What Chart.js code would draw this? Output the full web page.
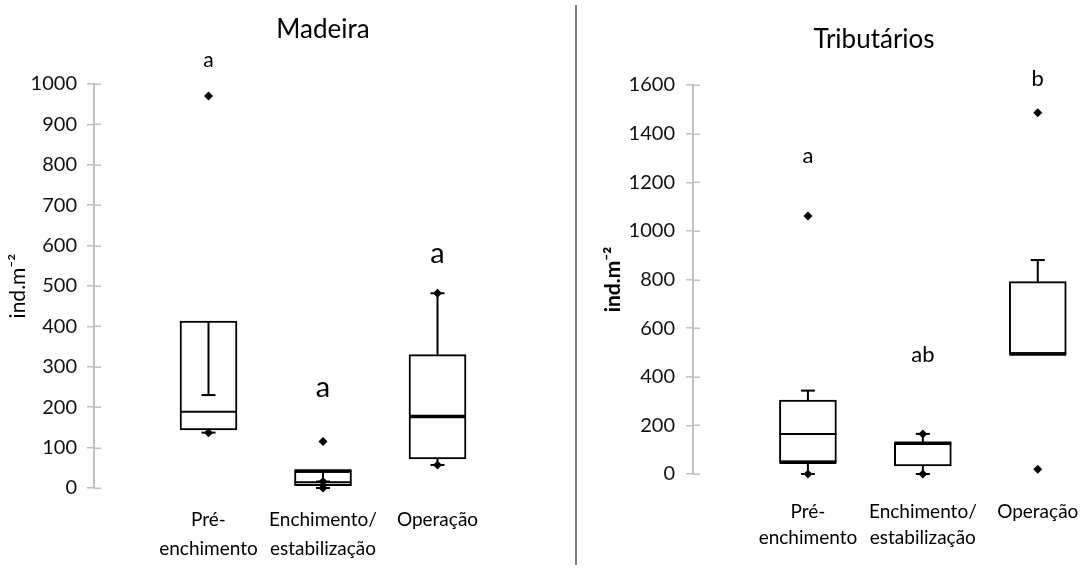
<!DOCTYPE html>
<html>
<head>
<meta charset="utf-8">
<script src="https://cdn.jsdelivr.net/npm/chart.js@4.4.1/dist/chart.umd.min.js"></script>
<style>
  html, body { margin: 0; padding: 0; background: #fff; }
  #wrap { position: relative; width: 1080px; height: 569px; overflow: hidden; }
  #left { position: absolute; left: 0; top: 0; }
  #right { position: absolute; left: 578px; top: 0; }
  #divider { position: absolute; left: 575px; top: 5px; width: 2px; height: 560px; background: #7f7f7f; }
</style>
</head>
<body>
<div id="wrap">
  <canvas id="left" width="576" height="569"></canvas>
  <div id="divider"></div>
  <canvas id="right" width="502" height="569"></canvas>
</div>
<script>
const periods = [["Pré-", "enchimento"], ["Enchimento/", "estabilização"], ["Operação"]]

// Madeira
const madeiraMax = 1000
const madeiraStep = 100
const madeiraQ1 = [144, 6, 72]
const madeiraQ3 = [413, 42, 330]
const madeiraMedian = [null, 42, 177]
const madeiraSplit = [189, 14, null]
const madeiraWhiskerHigh = [230, 16, 482]
const madeiraWhiskerLow = [137, 0, 57]
const madeiraPoints = [[970, 137], [115, 16, 0], [482, 57]]
const madeiraLetters = ["a", "a", "a"]
const madeiraLetterAt = [1060, 248, 580]

// Tributários
const tribMax = 1600
const tribStep = 200
const tribQ1 = [48, 33, 494]
const tribQ3 = [304, 128, 791]
const tribMedian = [48, 126, 494]
const tribSplit = [165, null, null]
const tribWhiskerHigh = [343, 165, 880]
const tribWhiskerLow = [0, 0, null]
const tribPoints = [[1061, 0], [165, 0], [1486, 20]]
const tribLetters = ["a", "ab", "b"]
const tribLetterAt = [1308, 490, 1625]

Chart.defaults.font.family = "Lato, 'Liberation Sans', sans-serif"
Chart.defaults.color = "#000"

// medians, whiskers and caps go on top of the boxes, letters and inner tick halves last
const boxPlot = {
  id: "boxPlot",
  afterDatasetDraw(chart, args, opts) {
    if (args.meta.type !== "bar") return
    const { ctx, scales: { x, y } } = chart
    const half = 28.5
    const line = (x1, y1, x2, y2, w) => {
      ctx.lineWidth = w
      ctx.beginPath()
      ctx.moveTo(x1, y1)
      ctx.lineTo(x2, y2)
      ctx.stroke()
    }
    ctx.save()
    ctx.strokeStyle = "#000"
    opts.q1.forEach((q1, i) => {
      const cx = x.getPixelForValue(i + 1)
      const hi = opts.whiskerHigh[i]
      const lo = opts.whiskerLow[i]
      if (hi != null) {
        line(cx, y.getPixelForValue(opts.q3[i]), cx, y.getPixelForValue(hi), 2)
        line(cx - 7, y.getPixelForValue(hi), cx + 7, y.getPixelForValue(hi), 2)
      }
      if (lo != null) {
        line(cx, y.getPixelForValue(q1), cx, y.getPixelForValue(lo), 2)
        line(cx - 7, y.getPixelForValue(lo), cx + 7, y.getPixelForValue(lo), 2)
      }
      if (opts.split[i] != null) {
        const py = y.getPixelForValue(opts.split[i])
        line(cx - half, py, cx + half, py, 2)
      }
      if (opts.median[i] != null) {
        const py = y.getPixelForValue(opts.median[i])
        line(cx - half, py, cx + half, py, 3.5)
      }
    })
    ctx.restore()
  },
  afterDraw(chart, args, opts) {
    const { ctx, chartArea, scales: { x, y } } = chart
    ctx.save()
    ctx.strokeStyle = "#c0c0c0"
    ctx.lineWidth = 1.5
    y.ticks.forEach(t => {
      const py = Math.round(y.getPixelForValue(t.value)) + 0.25
      ctx.beginPath()
      ctx.moveTo(chartArea.left, py)
      ctx.lineTo(chartArea.left + 7, py)
      ctx.stroke()
    })
    ctx.fillStyle = "#000"
    ctx.textAlign = "center"
    ctx.textBaseline = "middle"
    opts.letters.forEach((txt, i) => {
      ctx.font = opts.letterSizes[i] + "px Lato, 'Liberation Sans', sans-serif"
      ctx.fillText(txt, x.getPixelForValue(i + 1), y.getPixelForValue(opts.letterAt[i]))
    })
    ctx.restore()
  }
}

function boxChart(id, o) {
  const points = o.points.flatMap((vals, i) => vals.map(v => ({ x: i + 1, y: v })))
  const boxes = o.q1.map((q, i) => ({ x: i + 1, y: [q, o.q3[i]] }))
  return new Chart(document.getElementById(id), {
    type: "bar",
    data: {
      datasets: [
        {
          type: "scatter",
          data: points,
          pointStyle: "rectRot",
          pointRadius: 4.5,
          backgroundColor: "#000",
          borderWidth: 0,
          clip: false,
          order: 1
        },
        {
          type: "bar",
          data: boxes,
          backgroundColor: "#fff",
          borderColor: "#000",
          borderWidth: 2,
          borderSkipped: false,
          barThickness: 57,
          grouped: false,
          clip: false,
          order: 2
        }
      ]
    },
    options: {
      responsive: false,
      animation: false,
      layout: { padding: { right: o.padRight } },
      plugins: {
        legend: { display: false },
        tooltip: { enabled: false },
        title: {
          display: true,
          text: o.title,
          fullSize: false,
          color: "#000",
          font: { size: 26, weight: "normal", lineHeight: 1.2 },
          padding: { top: o.titleTop, bottom: o.titleBottom }
        },
        boxPlot: {
          q1: o.q1, q3: o.q3, median: o.median, split: o.split,
          whiskerHigh: o.whiskerHigh, whiskerLow: o.whiskerLow,
          letters: o.letters, letterAt: o.letterAt, letterSizes: o.letterSizes
        }
      },
      scales: {
        x: {
          type: "linear",
          min: 0,
          max: o.xMax,
          offset: false,
          grid: { display: false, drawTicks: false, offset: false },
          border: { display: false },
          afterBuildTicks: s => { s.ticks = periods.map((_, i) => ({ value: i + 1 })) },
          afterFit: s => { s.height = o.xHeight; s.paddingLeft = 0; s.paddingRight = 0 },
          ticks: {
            autoSkip: false,
            maxRotation: 0,
            padding: o.labelPad,
            color: "#000",
            font: { size: 19, lineHeight: o.labelLine },
            callback: v => periods[v - 1]
          }
        },
        y: {
          min: 0,
          max: o.yMax,
          afterFit: s => { s.width = o.yWidth; s.paddingTop = 0; s.paddingBottom = 0 },
          ticks: { stepSize: o.yStep, padding: o.tickPad, color: "#111", font: { size: 20 }, callback: v => String(v) },
          grid: { drawOnChartArea: false, tickLength: 7, color: "#c0c0c0", lineWidth: 1.5 },
          border: { color: "#c0c0c0", width: 2 },
          title: {
            display: true,
            text: "ind.m⁻²",
            color: "#000",
            font: { size: 21, weight: o.yTitleWeight },
            padding: { top: o.yTitlePad, bottom: 0 }
          }
        }
      }
    },
    plugins: [boxPlot]
  })
}

boxChart("left", {
  title: "Madeira", titleTop: 14.5, titleBottom: 38.3,
  q1: madeiraQ1, q3: madeiraQ3, median: madeiraMedian, split: madeiraSplit,
  whiskerHigh: madeiraWhiskerHigh, whiskerLow: madeiraWhiskerLow, points: madeiraPoints,
  letters: madeiraLetters, letterAt: madeiraLetterAt, letterSizes: [21, 29, 29],
  yMax: madeiraMax, yStep: madeiraStep, yWidth: 94, tickPad: 10, yTitlePad: 6, yTitleWeight: "normal",
  xMax: 4, xHeight: 81, padRight: 24, labelPad: 18, labelLine: 1.5
})

boxChart("right", {
  title: "Tributários", titleTop: 24.4, titleBottom: 29.4,
  q1: tribQ1, q3: tribQ3, median: tribMedian, split: tribSplit,
  whiskerHigh: tribWhiskerHigh, whiskerLow: tribWhiskerLow, points: tribPoints,
  letters: tribLetters, letterAt: tribLetterAt, letterSizes: [22, 22, 22],
  yMax: tribMax, yStep: tribStep, yWidth: 115, tickPad: 11, yTitlePad: 23, yTitleWeight: "bold",
  xMax: 3.15, xHeight: 95, padRight: 25, labelPad: 25, labelLine: 1.36
})
</script>
</body>
</html>
